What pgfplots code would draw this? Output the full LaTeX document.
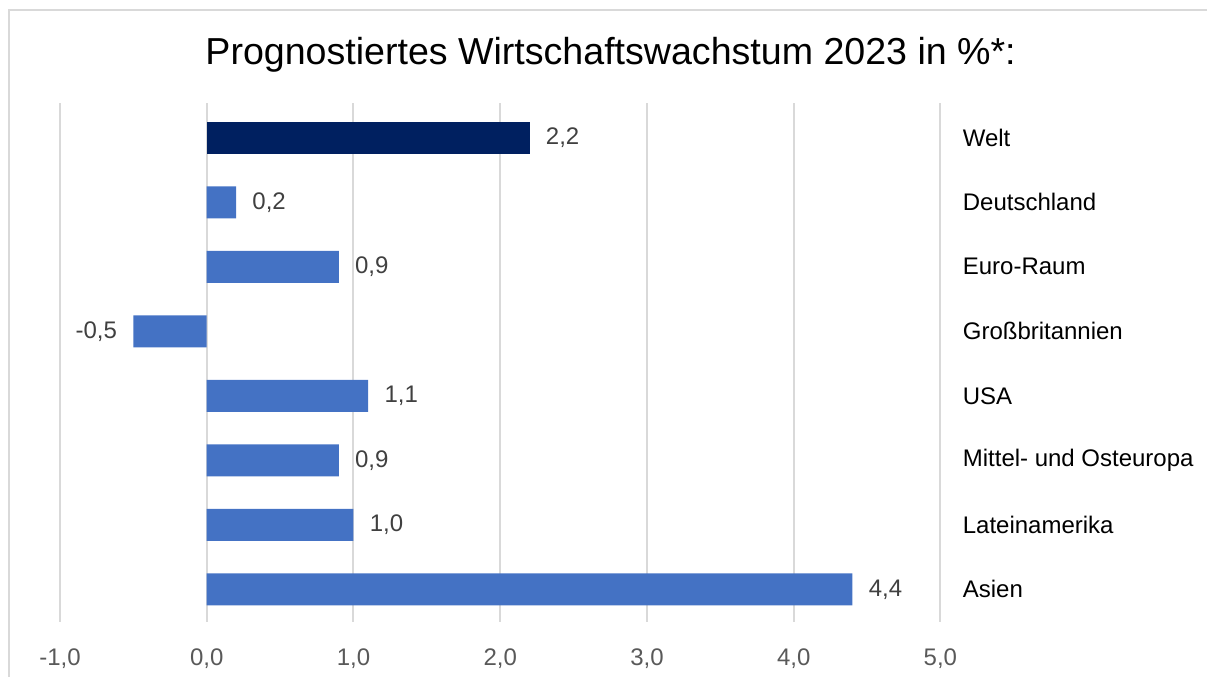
\documentclass[border=0pt]{standalone}
\usepackage{pgfplots}
\pgfplotsset{compat=1.18}
\usepackage{fontspec}
\setmainfont{Liberation Sans}
\definecolor{navy}{HTML}{002060}
\definecolor{bblue}{HTML}{4472C4}
\definecolor{gridc}{HTML}{D9D9D9}
\definecolor{tickgray}{HTML}{595959}
\definecolor{labgray}{HTML}{404040}

\begin{document}
\begin{tikzpicture}[x=1pt,y=1pt]
% page 1208x677 px at 0.5pt per px
\path (0,0) rectangle (604,338.5);
\draw[gridc, line width=0.75pt] (4.5,0) -- (4.5,333.5) -- (604,333.5);
\node[font=\fontsize{18.8}{22}\selectfont] at (305.5,311)
  {Prognostiertes Wirtschaftswachstum 2023 in \%*:};
\begin{axis}[
  at={(30pt,27.5pt)}, anchor=south west,
  scale only axis, width=440.5pt, height=259.5pt,
  xmin=-1, xmax=5, ymin=-0.5, ymax=7.54,
  xbar, bar width=16pt, bar shift=0pt,
  axis line style={draw=none},
  major tick length=0pt,
  xmajorgrids, grid style={gridc, line width=1pt},
  xtick={-1,0,1,2,3,4,5},
  ytick={0,1,2,3,4,5,6,7},
  yticklabels={Asien,Lateinamerika,Mittel- und Osteuropa,USA,Großbritannien,Euro-Raum,Deutschland,Welt},
  yticklabel pos=right,
  yticklabel style={anchor=west, xshift=7.7pt, font=\fontsize{12}{14}\selectfont, color=black},
  xticklabel style={yshift=-10pt, font=\fontsize{12}{14}\selectfont, color=tickgray},
  /pgf/number format/fixed,
  /pgf/number format/fixed zerofill,
  /pgf/number format/precision=1,
  /pgf/number format/use comma,
  /pgf/number format/assume math mode=true,
  nodes near coords,
  nodes near coords align=horizontal,
  nodes near coords style={inner xsep=8pt, font=\fontsize{12}{14}\selectfont, color=labgray},
]
\addplot[fill=navy, draw=none] coordinates {(2.2,7)};
\addplot[fill=bblue, draw=none] coordinates {
  (0.2,6) (0.9,5) (-0.5,4) (1.1,3) (0.9,2) (1.0,1) (4.4,0)};
\end{axis}
\end{tikzpicture}
\end{document}
